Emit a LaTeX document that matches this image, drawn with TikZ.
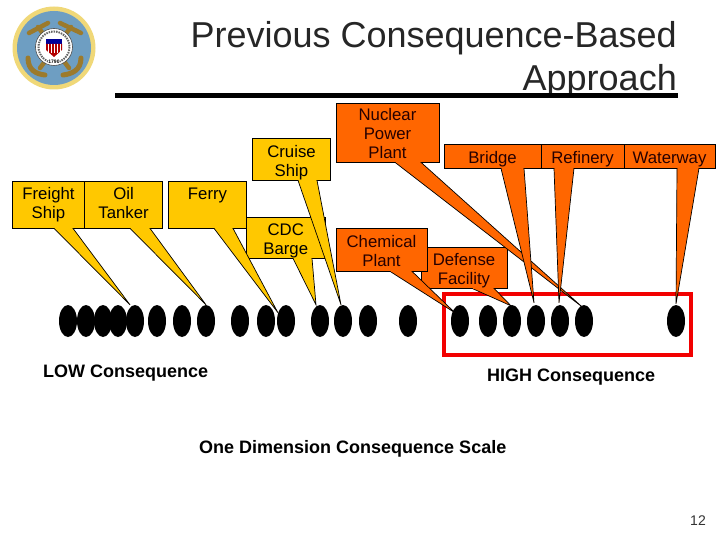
\documentclass[tikz,border=0pt]{standalone}
\usepackage{fontspec}
\setmainfont{Liberation Sans}
\usetikzlibrary{shapes.geometric,calc}
\definecolor{calloutY}{HTML}{FFC800}
\definecolor{calloutO}{HTML}{FF6600}
\definecolor{sealblue}{HTML}{6E9EC2}
\definecolor{sealgold}{HTML}{F0D878}
\definecolor{sealbrown}{HTML}{9C7A2C}
\newcommand{\calltail}[5]{% colour, box, x1, x2, tip
  \filldraw[draw=black,line width=.7pt,fill=#1,line join=miter] (#3,0 |- #2.south) -- (#5) -- (#4,0 |- #2.south);
  \draw[#1,line width=1.2pt] ($(#3,0 |- #2.south)+(.7,0)$) -- ($(#4,0 |- #2.south)+(-.7,0)$);
}
\newcommand{\leadin}[1]{\rule{0pt}{#1pt}}
\tikzset{
  ybox/.style={draw=black,line width=.7pt,fill=calloutY,align=center,inner sep=0pt,text depth=0pt,font=\fontsize{16.75}{19}\selectfont},
  obox/.style={ybox,fill=calloutO,text=black!85!red},
  pt/.style={ellipse,fill=black,inner sep=0pt,minimum width=18pt,minimum height=32pt},
  caption/.style={font=\fontsize{18}{21}\selectfont\bfseries,inner sep=0pt},
}
\begin{document}
\begin{tikzpicture}[x=1pt,y=-1pt]
\useasboundingbox (0,0) rectangle (720,540);
\fill[white] (0,0) rectangle (720,540);
% seal
\fill[sealgold] (54,48) circle (41.5);
\fill[sealblue] (54,48) circle (37);
\begin{scope}[sealbrown,line cap=round,line width=4.5pt]
  \draw (29,33) -- (48,23);
  \draw (60,23) -- (81,33);
  \draw (38,27) -- (69,68);
  \draw (71,27) -- (40,68);
  \draw[line width=5pt] (28,58) .. controls (28,70) and (36,74) .. (45,75);
  \draw[line width=5pt] (81,58) .. controls (81,70) and (72,74) .. (63,75);
\end{scope}
\filldraw[fill=white,draw=black!70,line width=.6pt] (54,47) circle (18.5);
\draw[black!60,line width=2pt,dash pattern=on 1.5pt off 1pt] (54,47) circle (15.5);
\fill[white] (54,47) circle (14);
\fill[blue!60!black] (46,39) rectangle (62,44);
\fill[red!70!black] (46,44) -- (62,44) -- (62,50) -- (54,57) -- (46,50) -- cycle;
\foreach \sx in {48.5,51.5,54.5,57.5,60.5} \draw[white,line width=.7pt] (\sx,44) -- (\sx,53);
\node[inner sep=0pt,fill=white,font=\fontsize{5}{5}\selectfont\bfseries] (year) at (54,62) {1790};
% title
\node[anchor=east,inner sep=0pt,font=\fontsize{36}{43}\selectfont,align=right,text=black!85] (title) at (677,60) {Previous Consequence-Based\\Approach};
\draw[black,line width=5pt] (115,96) -- (678,96);
% red frame
\draw[red!95!black,line width=4.5pt] (444,294) rectangle (691,355);
% points
\foreach \n/\x in {1/68,2/86,3/103,4/118,5/135,6/157,7/182,8/206,9/240,10/266,11/286,12/320,13/343,14/368,15/408,16/460,17/488,18/512,19/536,20/560,21/584,22/676}
  \node[pt] (e\n) at (\x,321) {};
% boxes and tails
\node[ybox,minimum width=72pt,minimum height=47pt,text depth=2.5pt] (freight) at (48.5,204.5) {Freight\\Ship};
\node[ybox,minimum width=78pt,minimum height=47pt,text depth=2.5pt] (oil) at (123.5,204.5) {Oil\\Tanker};
\node[ybox,minimum width=78.5pt,minimum height=41pt] (cdc) at (285.75,237.5) {\leadin{15}CDC\\Barge};
\node[ybox,minimum width=78pt,minimum height=47pt,text depth=2pt] (ferry) at (207.5,204.5) {Ferry\\~};
\node[ybox,minimum width=78pt,minimum height=41.5pt] (cruise) at (291.5,159.25) {\leadin{15}Cruise\\Ship};
\coordinate (tipfreight) at ($(e5.north)+(-5,0)$);
\coordinate (tipoil) at (e8.north);
\coordinate (tipferry) at ($(e11.north)+(-8,8)$);
\coordinate (tipcdc) at ($(e12.north)+(-4,0)$);
\coordinate (tipcruise) at ($(e13.north)+(-2,0)$);
\calltail{calloutY}{freight}{54}{73}{tipfreight}
\calltail{calloutY}{oil}{130}{150}{tipoil}
\calltail{calloutY}{cdc}{293}{312}{tipcdc}
\calltail{calloutY}{ferry}{214}{233}{tipferry}
\calltail{calloutY}{cruise}{298}{317}{tipcruise}
\node[obox,minimum width=86pt,minimum height=41pt] (defense) at (464,267.5) {\leadin{14}Defense\\Facility};
\coordinate (tipdefense) at ($(e18.north)+(-1,1)$);
\calltail{calloutO}{defense}{472}{494}{tipdefense}
\node[obox,minimum width=91pt,minimum height=43pt] (chemical) at (381.5,249.5) {\leadin{14}Chemical\\Plant};
\coordinate (tipchemical) at ($(e16.north)+(-5,8)$);
\calltail{calloutO}{chemical}{390}{412}{tipchemical}
\node[obox,minimum width=103pt,minimum height=59pt] (nuclear) at (387.5,132.5) {\leadin{15}Nuclear\\Power\\Plant};
\coordinate (tipnuclear) at ($(e21.north)+(-2,2)$);
\calltail{calloutO}{nuclear}{395}{421}{tipnuclear}
\node[obox,minimum width=97pt,minimum height=23.5pt] (bridge) at (492.5,156.25) {\leadin{14}Bridge};
\coordinate (tipbridge) at ($(e19.north)+(-2,-2)$);
\calltail{calloutO}{bridge}{501}{524}{tipbridge}
\node[obox,minimum width=83pt,minimum height=23.5pt] (refinery) at (582.5,156.25) {\leadin{14}Refinery};
\coordinate (tiprefinery) at ($(e20.north)+(-1,-2)$);
\calltail{calloutO}{refinery}{554}{574}{tiprefinery}
\node[obox,minimum width=91pt,minimum height=23.5pt] (waterway) at (669.5,156.25) {\leadin{14}Waterway};
\coordinate (tipwaterway) at ($(e22.north)+(0,-1)$);
\calltail{calloutO}{waterway}{677}{699}{tipwaterway}
% captions
\node[caption,anchor=west] (low) at (43,373) {LOW Consequence};
\node[caption,anchor=west] (high) at (487,377) {HIGH Consequence};
\node[caption,anchor=west] (scale) at (199,449) {One Dimension Consequence Scale};
\node[inner sep=0pt,font=\fontsize{14}{16}\selectfont,text=black!80] (page) at (698,521) {12};
\end{tikzpicture}
\end{document}
